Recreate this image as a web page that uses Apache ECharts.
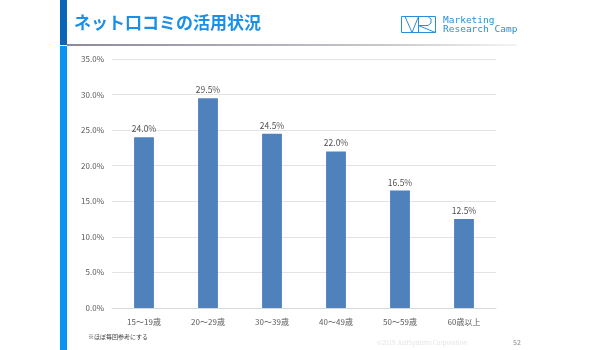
<!DOCTYPE html>
<html><head><meta charset="utf-8">
<script src="https://cdn.jsdelivr.net/npm/echarts@6/dist/echarts.min.js"></script>
<style>html,body{margin:0;padding:0;background:#fff}#c{width:600px;height:350px}</style>
</head><body><div id="c"></div>
<script>
const categories = ['15～19歳','20～29歳','30～39歳','40～49歳','50～59歳','60歳以上'];
const values = [24.0, 29.5, 24.5, 22.0, 16.5, 12.5];
const titleText = 'ネット口コミの活用状況';
const noteText = '※ほぼ毎回参考にする';
const copyText = '©2019 JustSystems Corporation';
const pageText = '52';
const FONT = '"Noto Sans CJK JP", "Noto Sans", sans-serif';

const chart = echarts.init(document.getElementById('c'), null, {renderer:'canvas'});
chart.setOption({
  animation: false,
  textStyle: {fontFamily: FONT},
  grid: {left: 112, right: 104, top: 59, bottom: 42},
  xAxis: {
    type: 'category', data: categories,
    axisLine: {lineStyle: {color: '#d9d9d9'}},
    axisTick: {show: false},
    axisLabel: {color: '#595959', fontSize: 8, margin: 10, fontFamily: FONT}
  },
  yAxis: {
    type: 'value', min: 0, max: 35, interval: 5,
    axisLabel: {color: '#595959', fontSize: 8, margin: 8, formatter: v => v.toFixed(1) + '%', fontFamily: FONT},
    splitLine: {lineStyle: {color: '#e3e3e3'}},
    axisLine: {show: false}, axisTick: {show: false}
  },
  series: [{
    type: 'bar', data: values, barWidth: '31%',
    itemStyle: {color: '#4f81bd'},
    label: {show: true, position: 'top', color: '#505050', fontSize: 8.5, distance: 4,
      formatter: p => p.value.toFixed(1) + '%', fontFamily: FONT}
  }],
  graphic: [
    {type: 'rect', shape: {x: 60, y: 0, width: 7, height: 45}, style: {fill: '#0a67b8'}},
    {type: 'rect', shape: {x: 60, y: 46, width: 7, height: 304}, style: {fill: '#0a96f0'}},
    {type: 'rect', shape: {x: 67, y: 44, width: 450, height: 2},
      style: {fill: new echarts.graphic.LinearGradient(0, 0, 1, 0, [
        {offset: 0, color: '#8a8a9a'}, {offset: 0.7, color: '#c8c8cc'}, {offset: 1, color: '#f4f4f4'}])}},
    {type: 'text', left: 74, top: 14, style: {text: titleText, fill: '#1a8fe6', font: 'bold 17px ' + FONT}},
    {type: 'rect', shape: {x: 401.5, y: 16.5, width: 34, height: 16}, style: {fill: 'none', stroke: '#2a8fd8', lineWidth: 1}},
    {type: 'polyline', shape: {points: [[405,16.5],[412,32.5],[418.5,16.5]]}, style: {fill: 'none', stroke: '#2a8fd8', lineWidth: 1}},
    {type: 'polyline', shape: {points: [[418.5,32.5],[418.5,16.5],[428,16.5],[431,19],[431,23],[428,25.5],[418.5,25.5],[435.5,32.5]]}, style: {fill: 'none', stroke: '#2a8fd8', lineWidth: 1}},
    {type: 'text', left: 443, top: 16, style: {text: 'Marketing', fill: '#2a8fd8', font: '9.5px "DejaVu Sans Mono", monospace'}},
    {type: 'text', left: 443, top: 25, style: {text: 'Research Camp', fill: '#2a8fd8', font: '9.5px "DejaVu Sans Mono", monospace'}},
    {type: 'text', left: 88, top: 334, style: {text: noteText, fill: '#404040', font: '6px ' + FONT}},
    {type: 'text', left: 377, top: 340, style: {text: copyText, fill: '#e4e4e4', font: '6px ' + FONT}},
    {type: 'text', left: 513, top: 339, style: {text: pageText, fill: '#8c8c8c', font: '7px ' + FONT}}
  ]
});
</script></body></html>
